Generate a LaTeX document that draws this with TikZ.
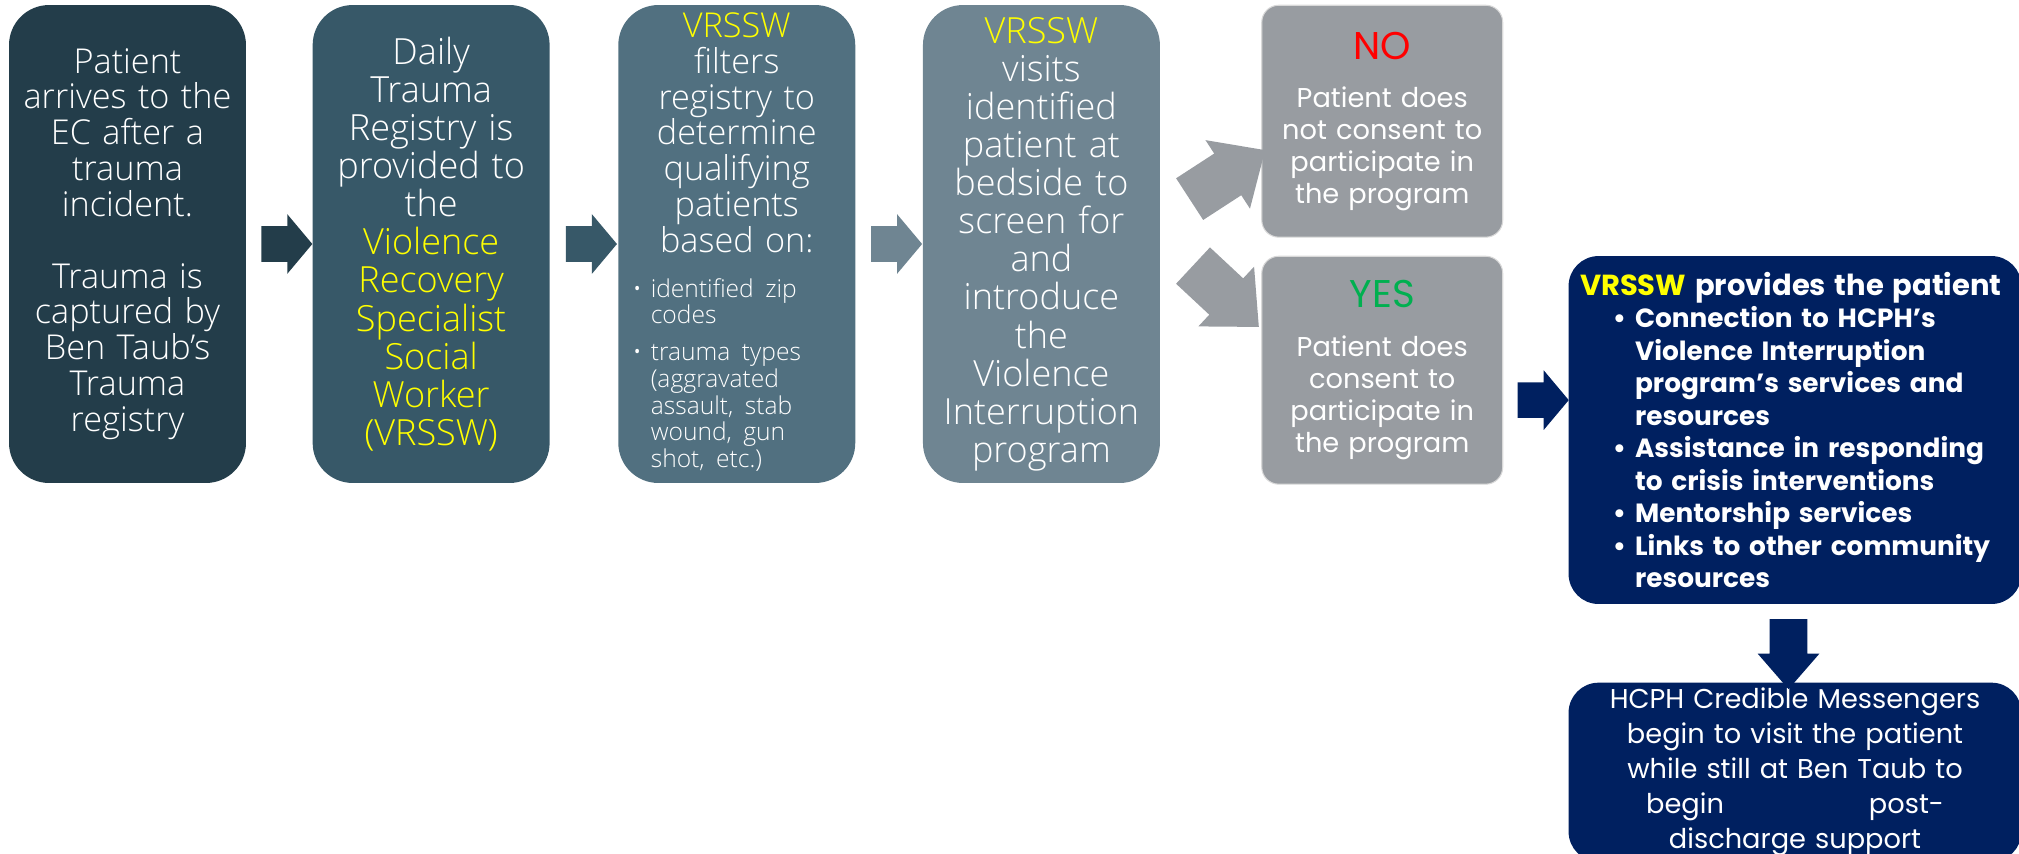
\documentclass[tikz,border=0pt]{standalone}
\usepackage{fontspec}
\setmainfont{Open Sans}[UprightFont=* Light]
\newfontfamily\popfont{Poppins}
\usetikzlibrary{positioning,shapes.arrows,calc}
\definecolor{stepA}{RGB}{35,61,74}
\definecolor{stepB}{RGB}{55,88,104}
\definecolor{stepC}{RGB}{81,112,128}
\definecolor{stepD}{RGB}{111,133,146}
\definecolor{consent}{RGB}{152,156,161}
\definecolor{hcph}{RGB}{0,32,96}
\definecolor{vyellow}{RGB}{255,255,0}
\definecolor{noRed}{RGB}{255,0,0}
\definecolor{yesGreen}{RGB}{0,176,80}
\newcommand\itemdot[1]{\makebox[#1][r]{\textbullet\hspace{0.18cm}}}
\newcommand\itemgap[1]{\hspace*{#1}}

\begin{document}
\begin{tikzpicture}[x=0.02cm,y=-0.02cm,
    stage/.style={rectangle,rounded corners=0.8cm,minimum width=4.74cm,minimum height=9.56cm,text width=4.6cm,align=center,inner sep=0pt,text=white,font=\fontsize{19.5}{20.4}\selectfont},
    answer/.style={rectangle,rounded corners=0.34cm,fill=consent,draw=white!85!black,line width=0.6pt,minimum width=4.82cm,text width=4.6cm,align=center,inner sep=0pt,text=white,font=\popfont\fontsize{15.5}{18.2}\selectfont},
    navybox/.style={rectangle,rounded corners=0.6cm,fill=hcph,text=white,inner sep=0pt,minimum width=9.06cm},
    flow/.style={single arrow,inner xsep=0pt,inner ysep=0.35cm,minimum height=1.02cm,single arrow head extend=0.24cm,single arrow tip angle=100},
    branch/.style={single arrow,fill=consent,inner xsep=0pt,inner ysep=0.49cm,minimum height=1.8cm,single arrow head extend=0.32cm,single arrow tip angle=85}]
    \useasboundingbox (0,0) rectangle (2019,853);
    \clip (0,0) rectangle (2019,853);

    \node[stage,fill=stepA] (arrive) at (127.5,244) {Patient\\ arrives to the\\ EC after a\\ trauma\\ incident.\\[20.4pt] Trauma is\\ captured by\\ Ben Taub’s\\ Trauma\\ registry};
    \node[stage,fill=stepB,right=1.32cm of arrive,font=\fontsize{20.5}{21.7}\selectfont] (daily) {Daily\\ Trauma\\ Registry is\\ provided to\\ the\\ \color{vyellow}Violence\\ Recovery\\ Specialist\\ Social\\ Worker\\ (VRSSW)};
    \node[stage,fill=stepC,right=1.36cm of daily] (filter) {{\color{vyellow}VRSSW}\\ filters\\ registry to\\ determine\\ qualifying\\ patients\\ based on:\\[5pt]
        {\fontsize{14}{15.1}\selectfont\makebox[4.6cm][l]{\begin{tabular}[t]{@{}l@{}}\itemdot{0.58cm}identified zip\\ \itemgap{0.58cm}codes\\[6pt] \itemdot{0.58cm}trauma types\\ \itemgap{0.58cm}(aggravated\\ \itemgap{0.58cm}assault, stab\\ \itemgap{0.58cm}wound, gun\\ \itemgap{0.58cm}shot, etc.)\end{tabular}}}};
    \node[stage,fill=stepD,right=1.34cm of filter,font=\fontsize{20.5}{21.7}\selectfont] (screen) {{\color{vyellow}VRSSW}\\ visits\\ identified\\ patient at\\ bedside to\\ screen for\\ and\\ introduce\\ the\\ Violence\\ Interruption\\ program};

    \node[answer,minimum height=4.64cm,right=2.02cm of screen.north east,anchor=north west] (no) {{\color{noRed}\fontsize{22}{26}\selectfont NO}\\[9pt] Patient does\\ not consent to\\ participate in\\ the program};
    \node[answer,minimum height=4.56cm,below=0.36cm of no] (yes) {{\color{yesGreen}\fontsize{22}{26}\selectfont YES}\\[10pt] Patient does\\ consent to\\ participate in\\ the program};

    \node[navybox,minimum height=6.96cm,text width=8.6cm,align=left,right=1.3cm of yes.north east,anchor=north west,font=\popfont\bfseries\fontsize{15}{18.5}\selectfont] (resp) {{\fontsize{16.5}{18.5}\selectfont\color{vyellow}VRSSW \color{white}provides the patient}\\
        \itemdot{1.1cm}Connection to HCPH’s\\
        \itemgap{1.1cm}Violence Interruption\\
        \itemgap{1.1cm}program’s services and\\
        \itemgap{1.1cm}resources\\
        \itemdot{1.1cm}Assistance in responding\\
        \itemgap{1.1cm}to crisis interventions\\
        \itemdot{1.1cm}Mentorship services\\
        \itemdot{1.1cm}Links to other community\\
        \itemgap{1.1cm}resources};
    \node[navybox,minimum height=3.58cm,text width=8.6cm,align=center,below=1.56cm of resp,font=\popfont\fontsize{15.5}{19.9}\selectfont] (meet) {HCPH Credible Messengers\\ begin to visit the patient\\ while still at Ben Taub to\\ begin\hspace{2.9cm}post-\\ discharge support};

    \node[flow,fill=stepA] (f1) at ($(arrive.east)!0.5!(daily.west)$) {};
    \node[flow,fill=stepB] (f2) at ($(daily.east)!0.5!(filter.west)$) {};
    \node[flow,fill=stepD] (f3) at ($(filter.east)!0.5!(screen.west)$) {};
    \node[branch,rotate=33] (tono) at (1216,182) {};
    \node[branch,rotate=-43] (toyes) at (1216,287) {};
    \node[flow,fill=hcph] (f4) at ($(yes.east)!0.5!(resp.west)$) {};
    \node[flow,fill=hcph,rotate=-90,inner ysep=0.37cm,minimum height=1.4cm,single arrow tip angle=82] (f5) at ($(resp.south)!0.5!(meet.north)+(-6.5,0)$) {};
\end{tikzpicture}
\end{document}
